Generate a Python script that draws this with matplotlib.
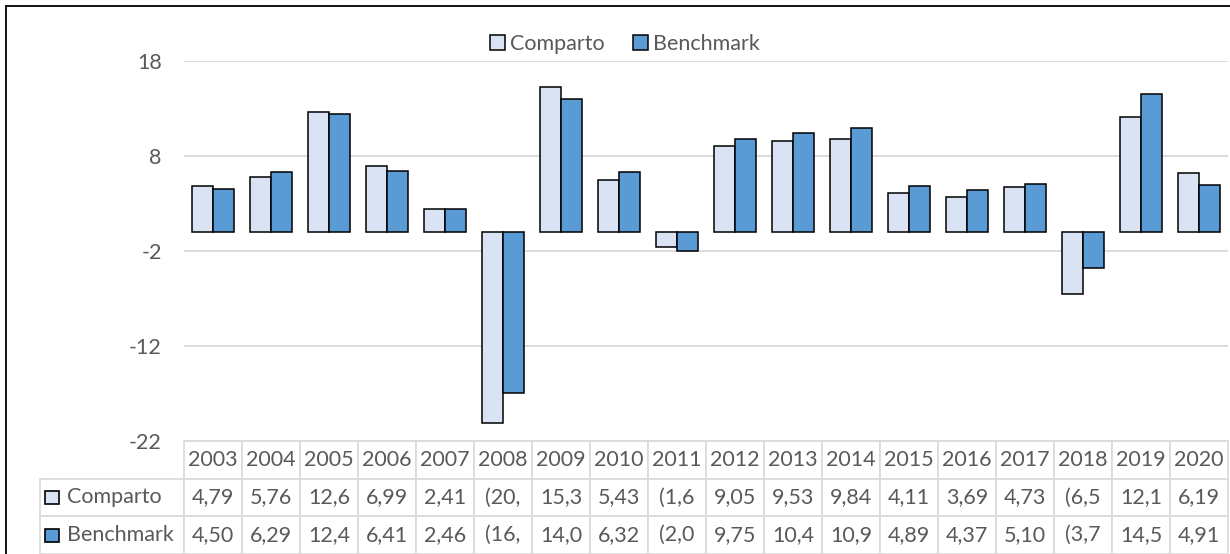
import matplotlib
matplotlib.use("Agg")
import matplotlib.pyplot as plt
from matplotlib.patches import Rectangle
import numpy as np

years = [str(y) for y in range(2003, 2021)]
comparto = [4.79, 5.76, 12.6, 6.99, 2.41, -20.1, 15.3, 5.43, -1.6, 9.05,
            9.53, 9.84, 4.11, 3.69, 4.73, -6.5, 12.1, 6.19]
benchmark = [4.50, 6.29, 12.4, 6.41, 2.46, -16.9, 14.0, 6.32, -2.0, 9.75,
             10.4, 10.9, 4.89, 4.37, 5.10, -3.75, 14.5, 4.91]
series_names = ["Comparto", "Benchmark"]
yticks = [18, 8, -2, -12, -22]

COL_LIGHT = "#dae3f3"
COL_BLUE = "#5b9bd5"
TEXT = "#595959"
GRID = "#d9d9d9"
FS = 15.5


def cell_text(v):
    # Excel-like narrow column display: 4 characters, negatives in parentheses
    if v < 0:
        s = f"{abs(v):.2f}".replace(".", ",")
        return "(" + s[:3]
    s = f"{v:.1f}" if v >= 10 else f"{v:.2f}"
    return s.replace(".", ",")


plt.rcParams["font.family"] = ["Lato", "DejaVu Sans"]
plt.rcParams["axes.unicode_minus"] = False

W, H = 1230, 554
fig = plt.figure(figsize=(W / 100, H / 100), dpi=100)
ax = fig.add_axes([184 / W, 1 - 441 / H, 1044 / W, 380 / H])

x = np.arange(len(years))
bw = 0.37
ax.bar(x - bw / 2, comparto, bw, color=COL_LIGHT, edgecolor="black", linewidth=1.1,
       label=series_names[0], zorder=3)
ax.bar(x + bw / 2, benchmark, bw, color=COL_BLUE, edgecolor="black", linewidth=1.1,
       label=series_names[1], zorder=3)

ax.set_xlim(-0.5, len(years) - 0.5)
ax.set_ylim(-22, 18)
ax.set_yticks(yticks)
ax.set_xticks([])
ax.tick_params(axis="y", length=0, pad=16, labelsize=FS, labelcolor=TEXT)
for s in ax.spines.values():
    s.set_visible(False)
ax.grid(axis="y", color=GRID, linewidth=1.3, zorder=0)

# data table below the plot (bbox covers the year columns; labels hang to the left)
cells = [[cell_text(v) for v in comparto], [cell_text(v) for v in benchmark]]
lab_w, col_w = 144, 58
tab = ax.table(cellText=cells, colLabels=years, cellLoc="center",
               colWidths=[col_w / 1044] * len(years),
               bbox=[0, -113 / 380, 1, 113 / 380])
h = tab[1, 0].get_height()
for i, name in enumerate(series_names, start=1):
    c = tab.add_cell(i, -1, width=lab_w / 1044, height=h, text=name, loc="left")
    c.PAD = 0.19
tab.auto_set_font_size(False)
tab.set_fontsize(FS)
for (r, c), cell in tab.get_celld().items():
    cell.set_edgecolor(GRID)
    cell.set_linewidth(1.2)
    cell.get_text().set_color(TEXT)

# legend markers in the table row labels
for i, col in enumerate([COL_LIGHT, COL_BLUE]):
    y0 = 491 + i * 38
    fig.add_artist(Rectangle((45 / W, 1 - (y0 + 13) / H), 14 / W, 13 / H,
                             facecolor=col, edgecolor="black", linewidth=1.2,
                             transform=fig.transFigure))

fig.legend(loc="center", bbox_to_anchor=(625 / W, 1 - 44 / H), ncol=2, frameon=False,
           fontsize=FS, labelcolor=TEXT, handlelength=0.7, handleheight=0.7,
           handletextpad=0.25, columnspacing=1.3)

# outer chart border
fig.add_artist(Rectangle((6 / W, -0.1), 1.2, 1 - 6 / H + 0.1, fill=False,
                         edgecolor="black", linewidth=1.3, transform=fig.transFigure))

fig.savefig("out.png", dpi=100)
